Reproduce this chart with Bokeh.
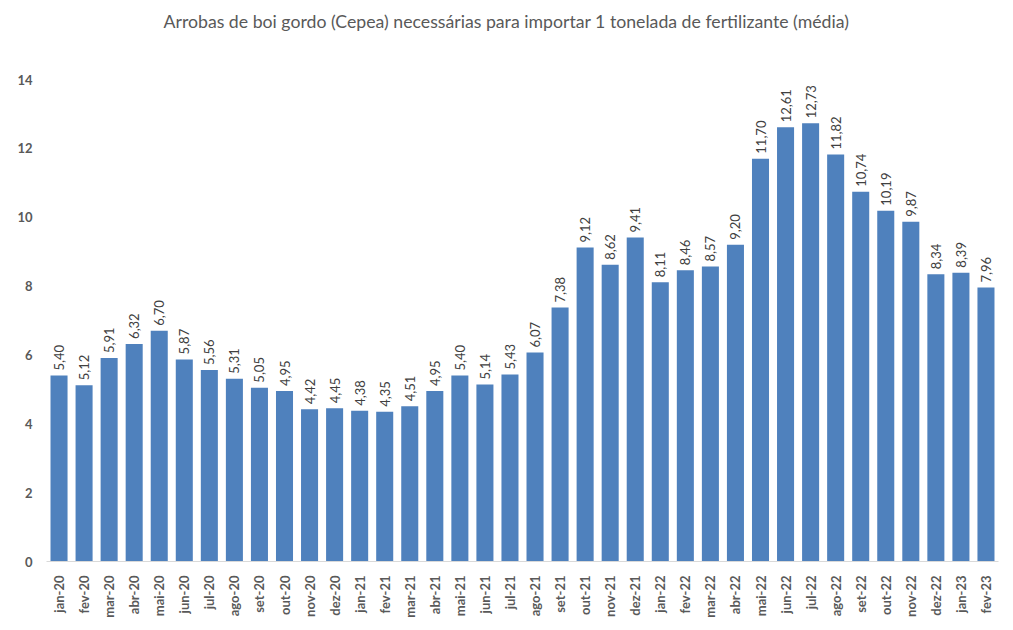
import math
from bokeh.plotting import figure
from bokeh.models import ColumnDataSource, FixedTicker, Title
from bokeh.core.properties import value
from bokeh.embed import file_html
from bokeh.resources import INLINE

months = ["jan-20", "fev-20", "mar-20", "abr-20", "mai-20", "jun-20", "jul-20", "ago-20",
          "set-20", "out-20", "nov-20", "dez-20", "jan-21", "fev-21", "mar-21", "abr-21",
          "mai-21", "jun-21", "jul-21", "ago-21", "set-21", "out-21", "nov-21", "dez-21",
          "jan-22", "fev-22", "mar-22", "abr-22", "mai-22", "jun-22", "jul-22", "ago-22",
          "set-22", "out-22", "nov-22", "dez-22", "jan-23", "fev-23"]
values = [5.40, 5.12, 5.91, 6.32, 6.70, 5.87, 5.56, 5.31, 5.05, 4.95, 4.42, 4.45,
          4.38, 4.35, 4.51, 4.95, 5.40, 5.14, 5.43, 6.07, 7.38, 9.12, 8.62, 9.41,
          8.11, 8.46, 8.57, 9.20, 11.70, 12.61, 12.73, 11.82, 10.74, 10.19, 9.87, 8.34,
          8.39, 7.96]
y_ticks = [0, 2, 4, 6, 8, 10, 12, 14]
title = "Arrobas de boi gordo (Cepea) necessárias para importar 1 tonelada de fertilizante (média)"

labels = [f"{v:.2f}".replace(".", ",") for v in values]
src = ColumnDataSource(dict(m=months, v=values, lab=labels))

FONT = "Lato"
GRAY = "#595959"

p = figure(x_range=months, y_range=(0, 14), width=1000, height=620,
           output_backend="svg", toolbar_location=None,
           min_border_left=46, min_border_right=2, min_border_top=79, min_border_bottom=57)
p.title.text = title
p.title.align = "left"
p.title.offset = 117
p.title.vertical_align = "top"
p.title.standoff = 20
p.title.text_font = FONT
p.title.text_font_size = "17.7px"
p.title.text_font_style = "normal"
p.title.text_color = GRAY

# blank spacer between the title and the plot frame
p.add_layout(Title(text=" ", text_font_size="10px", standoff=23), "above")

p.vbar(x="m", top="v", width=0.68, source=src, color="#4F81BD", line_color=None)
p.text(x="m", y="v", text="lab", source=src, angle=math.pi / 2,
       text_align="left", text_baseline="middle", y_offset=-5,
       text_font=value(FONT), text_font_size="13px", text_color="#404040")

p.xgrid.visible = False
p.ygrid.visible = False
p.outline_line_color = None
p.background_fill_color = "white"

p.yaxis.ticker = FixedTicker(ticks=y_ticks)
p.yaxis.axis_line_color = None
p.yaxis.major_tick_line_color = None
p.yaxis.minor_tick_line_color = None
p.yaxis.major_label_text_font = FONT
p.yaxis.major_label_text_font_size = "13px"
p.yaxis.major_label_text_font_style = "bold"
p.yaxis.major_label_text_color = GRAY
p.yaxis.major_label_standoff = 8

p.xaxis.axis_line_color = "#D9D9D9"
p.xaxis.major_tick_line_color = None
p.xaxis.minor_tick_line_color = None
p.xaxis.major_label_orientation = math.pi / 2
p.xaxis.major_label_text_font = FONT
p.xaxis.major_label_text_font_size = "13px"
p.xaxis.major_label_text_font_style = "bold"
p.xaxis.major_label_text_color = GRAY
p.xaxis.major_label_standoff = 8
p.x_range.range_padding = 0

open("out.html", "w").write(file_html(p, INLINE))
